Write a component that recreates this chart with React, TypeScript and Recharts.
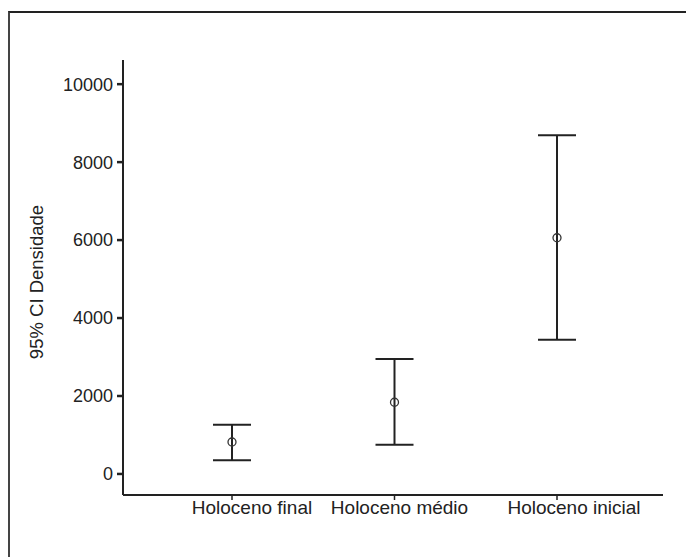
import {
  ComposedChart,
  ErrorBar,
  Scatter,
  XAxis,
  YAxis,
} from 'recharts'

const categories = ['Holoceno final', 'Holoceno médio', 'Holoceno inicial']
const means = [820, 1840, 6060]
const lower = [350, 750, 3440]
const upper = [1260, 2950, 8690]
const yTicks = [0, 2000, 4000, 6000, 8000, 10000]

const data = categories.map((name, i) => ({
  name,
  mean: means[i],
  err: [means[i] - lower[i], upper[i] - means[i]],
}))

const font = '"Liberation Sans", Arial, sans-serif'
const ink = '#222'
// labels in the original sit a little right of their tick marks
const labelShift = [20, 5, 17]

const MeanMarker = (props: any) => (
  <circle cx={props.cx} cy={props.cy} r={4} fill="none" stroke="#333" strokeWidth={1.3} />
)

const CategoryTick = (props: any) => {
  const { x, y, payload, index } = props
  return (
    <text
      x={x + (labelShift[index] ?? 0)}
      y={y + 14}
      textAnchor="middle"
      fontFamily={font}
      fontSize={19}
      fill={ink}
    >
      {payload.value}
    </text>
  )
}

const YLabel = () => (
  <text
    transform="translate(38,282) rotate(-90)"
    textAnchor="middle"
    dominantBaseline="middle"
    fontFamily={font}
    fontSize={18.5}
    fill={ink}
  >
    95% CI Densidade
  </text>
)

export default function App() {
  return (
    <div
      style={{
        position: 'absolute',
        left: 0,
        top: 0,
        width: 686,
        height: 557,
        background: '#fff',
      }}
    >
      <div
        style={{
          position: 'absolute',
          left: 8,
          top: 11,
          width: 676,
          height: 546,
          borderTop: '2px solid #222',
          borderLeft: '2px solid #444',
          borderRight: '1px solid #bbb',
        }}
      />
      <div style={{ position: 'absolute', left: 0, top: 0 }}>
        <ComposedChart
          width={686}
          height={557}
          data={data}
          margin={{ top: 60, right: 23, left: 63, bottom: 32 }}
        >
          <XAxis
            dataKey="name"
            type="category"
            height={30}
            padding={{ left: 109, right: 106 }}
            axisLine={{ stroke: ink, strokeWidth: 2 }}
            tickLine={{ stroke: ink, strokeWidth: 1.5 }}
            tickSize={5}
            tickMargin={0}
            tick={<CategoryTick />}
            interval={0}
          />
          <YAxis
            type="number"
            width={60}
            domain={[-540, 10620]}
            ticks={yTicks}
            axisLine={{ stroke: ink, strokeWidth: 2 }}
            tickLine={{ stroke: ink, strokeWidth: 2.5 }}
            tickSize={6}
            tickMargin={4}
            tick={{ fill: ink, fontSize: 18, fontFamily: font }}
            allowDataOverflow
            label={{ content: () => <YLabel /> }}
          />
          <Scatter dataKey="mean" shape={<MeanMarker />} isAnimationActive={false}>
            <ErrorBar
              dataKey="err"
              direction="y"
              width={19}
              stroke={ink}
              strokeWidth={2}
              isAnimationActive={false}
            />
          </Scatter>
        </ComposedChart>
      </div>
    </div>
  )
}
